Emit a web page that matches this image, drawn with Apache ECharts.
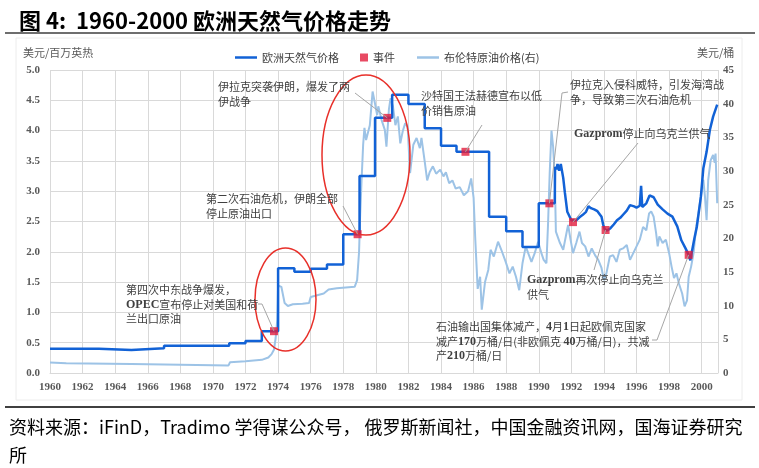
<!DOCTYPE html>
<html><head><meta charset="utf-8">
<script src="https://cdn.jsdelivr.net/npm/echarts@6/dist/echarts.min.js"></script>
<style>html,body{margin:0;padding:0;background:#fff}#c{width:759px;height:468px}</style>
</head><body><div id="c"></div>
<script>
// ---------- DATA ----------
const xTicks = [1960,1962,1964,1966,1968,1970,1972,1974,1976,1978,1980,1982,1984,1986,1988,1990,1992,1994,1996,1998,2000];
const leftTicks = [0,0.5,1,1.5,2,2.5,3,3.5,4,4.5,5];
const rightTicks = [0,5,10,15,20,25,30,35,40,45];

// 欧洲天然气价格 (美元/百万英热) [year, value]
const gasPrice = [
 [1960,0.40],[1963,0.40],[1963,0.38],[1965,0.38],[1965,0.41],[1967,0.41],[1967,0.45],
 [1971,0.45],[1971,0.49],[1972,0.49],[1972,0.53],[1973,0.53],[1973,0.69],[1974,0.69],
 [1974,1.73],[1975,1.73],[1975,1.67],[1976,1.67],[1976,1.72],[1977,1.72],[1977,1.79],
 [1978,1.79],[1978,2.29],[1979,2.29],[1979,3.25],[1979.95,3.25],[1979.95,4.21],[1981,4.21],
 [1981,4.59],[1982,4.59],[1982,4.44],[1983,4.44],[1983,4.04],[1984,4.04],[1984,3.75],
 [1984.95,3.75],[1984.95,3.65],[1986.95,3.65],[1986.95,2.58],[1988,2.58],[1988,2.34],
 [1989,2.34],[1989,2.08],[1990,2.08],[1990,2.80],[1990.98,2.80],
 [1991.0,3.40],[1991.1,3.36],[1991.15,3.45],[1991.25,3.34],[1991.35,3.45],[1991.5,3.22],
 [1991.6,2.98],[1991.65,2.97],[1991.75,2.66],[1991.85,2.63],[1992.0,2.52],[1992.1,2.49],
 [1992.3,2.52],[1992.5,2.57],[1992.7,2.61],[1992.9,2.66],[1993.05,2.75],[1993.2,2.72],
 [1993.4,2.70],[1993.6,2.67],[1993.85,2.58],[1993.95,2.45],[1994.05,2.37],[1994.2,2.35],
 [1994.4,2.39],[1994.6,2.45],[1994.8,2.52],[1995.0,2.56],[1995.2,2.62],[1995.4,2.68],
 [1995.6,2.77],[1995.7,2.78],[1995.85,2.75],[1996.0,2.73],[1996.2,2.76],[1996.28,3.09],
 [1996.35,2.74],[1996.6,2.80],[1996.8,2.93],[1996.9,2.95],[1997.05,2.90],[1997.3,2.78],
 [1997.6,2.70],[1997.9,2.63],[1998.2,2.58],[1998.5,2.42],[1998.75,2.19],[1999.0,2.06],
 [1999.2,1.95],[1999.3,1.86],[1999.55,2.22],[1999.7,2.41],[1999.95,2.91],[2000.1,3.38],
 [2000.3,3.65],[2000.4,3.62],[2000.5,4.01],[2000.7,4.23],[2000.95,4.43]
];

// 布伦特原油价格 (美元/桶) [year, value]
const brentPrice = [
 [1960,1.55],[1961,1.45],[1965,1.35],[1970,1.15],[1970.95,1.10],[1971.05,1.60],[1972,1.75],
 [1973,1.95],[1973.4,2.3],[1973.6,2.8],[1973.75,3.5],[1973.85,5.2],[1973.95,7.9],[1974.0,13.0],
 [1974.2,12.8],[1974.4,10.4],[1974.6,9.95],[1974.9,10.2],[1975.5,10.3],[1975.9,10.4],[1976.0,11.3],
 [1976.8,11.8],[1977.1,12.4],[1977.6,12.6],[1978.7,12.8],[1978.85,13.8],[1978.97,18.0],
 [1979.03,23.0],[1979.12,28.4],[1979.22,33.9],[1979.3,36.4],[1979.4,34.6],[1979.63,36.8],
 [1979.8,41.8],[1979.94,40.1],[1980.08,38.3],[1980.15,39.6],[1980.35,37.6],[1980.55,36.1],
 [1980.65,33.6],[1980.8,39.1],[1980.9,40.8],[1981.05,39.6],[1981.2,36.8],[1981.35,38.1],
 [1981.5,34.1],[1981.65,35.9],[1981.8,37.1],[1981.95,36.6],[1982.1,29.7],[1982.3,33.9],
 [1982.5,34.9],[1982.7,33.4],[1982.8,34.9],[1983.0,31.4],[1983.15,28.6],[1983.3,29.8],
 [1983.5,30.7],[1983.7,29.6],[1983.95,30.2],[1984.15,29.2],[1984.3,29.8],[1984.5,28.2],
 [1984.7,28.6],[1984.9,27.4],[1985.15,27.6],[1985.4,26.4],[1985.66,27.0],[1985.85,28.9],
 [1986.0,26.0],[1986.1,20.0],[1986.25,12.5],[1986.4,14.3],[1986.5,9.4],[1986.7,13.5],
 [1986.9,15.3],[1987.04,18.3],[1987.24,17.3],[1987.5,19.5],[1987.7,18.3],[1987.97,16.5],
 [1988.2,14.8],[1988.4,15.8],[1988.6,14.3],[1988.8,12.3],[1989.0,16.3],[1989.2,18.8],
 [1989.35,17.8],[1989.55,16.5],[1989.75,17.8],[1989.96,19.5],[1990.16,17.8],[1990.3,16.8],
 [1990.47,16.3],[1990.57,22.2],[1990.67,29.7],[1990.78,36.0],[1990.88,33.6],[1990.98,29.2],
 [1991.05,21.0],[1991.3,19.3],[1991.5,18.3],[1991.7,20.8],[1991.8,22.0],[1991.95,19.8],
 [1992.1,17.8],[1992.3,19.3],[1992.5,21.0],[1992.65,19.3],[1992.85,18.8],[1993.05,17.3],
 [1993.25,18.5],[1993.45,17.5],[1993.65,16.8],[1993.85,15.6],[1994.0,13.8],[1994.15,14.8],
 [1994.36,17.3],[1994.56,17.5],[1994.77,16.5],[1994.97,18.3],[1995.17,18.5],[1995.4,19.0],
 [1995.6,16.8],[1995.8,17.8],[1996.0,18.8],[1996.2,19.8],[1996.4,21.7],[1996.6,21.2],
 [1996.77,23.7],[1996.9,24.0],[1997.05,23.2],[1997.2,20.8],[1997.3,18.8],[1997.4,20.3],
 [1997.6,19.3],[1997.8,19.8],[1998.0,17.8],[1998.15,15.8],[1998.3,14.1],[1998.45,14.8],
 [1998.6,13.3],[1998.8,11.8],[1998.95,9.9],[1999.1,10.8],[1999.2,14.3],[1999.35,15.8],
 [1999.5,17.8],[1999.66,21.7],[1999.8,23.7],[1999.95,26.2],[2000.1,28.7],[2000.2,26.2],
 [2000.3,22.7],[2000.4,28.7],[2000.55,31.6],[2000.7,32.4],[2000.8,31.2],[2000.85,32.6],
 [2000.95,25.2]
];

// 事件 [year, gas price]
const eventPoints = [
 [1973.75,0.69],[1978.88,2.29],[1980.7,4.21],[1985.5,3.65],
 [1990.65,2.80],[1992.1,2.49],[1994.1,2.36],[1999.2,1.95]
];

const seriesNames = ['欧洲天然气价格','事件','布伦特原油价格(右)'];

// annotation texts (event index they point to)
const annotations = [
 {text:'伊拉克突袭伊朗，爆发了两\n伊战争', ev:2},
 {text:'第二次石油危机，伊朗全部\n停止原油出口', ev:1},
 {text:'第四次中东战争爆发，\n{s|OPEC}宣布停止对美国和荷\n兰出口原油', ev:0},
 {text:'沙特国王法赫德宣布以低\n价销售原油', ev:3},
 {text:'伊拉克入侵科威特，引发海湾战\n争，导致第三次石油危机', ev:4},
 {text:'{s|Gazprom}停止向乌克兰供气', ev:5},
 {text:'{s|Gazprom}再次停止向乌克兰\n供气', ev:6},
 {text:'石油输出国集体减产，{s|4}月{s|1}日起欧佩克国家\n减产{s|170}万桶/日(非欧佩克 {s|40}万桶/日)，共减\n产{s|210}万桶/日', ev:7}
];
// ---------- LAYOUT (pixels) ----------
const annLayout = [
 {x:218,y:80, from:[[355,93]]},
 {x:206,y:192, from:[[343,206]]},
 {x:126,y:283, from:[[258,304],[262,304]]},
 {x:421,y:89, from:[[482,125]]},
 {x:570,y:78, from:[[568,92],[562,93]]},
 {x:574,y:127, from:[[638,143]]},
 {x:527,y:273, from:[[594,270]]},
 {x:436,y:320, from:[[652,340],[657,340]]}
];

const CJK = "'Noto Sans CJK SC', sans-serif";
const SERIF = "'Liberation Serif', 'DejaVu Serif', serif";
const gridC = '#d9d9d9';

const chart = echarts.init(document.getElementById('c'), null, {renderer:'canvas'});
const option = {
  animation:false,
  backgroundColor:'#fff',
  title:{text:'图 4:  1960-2000 欧洲天然气价格走势', left:14, top:5,
    textStyle:{fontFamily:CJK, fontSize:22, fontWeight:'bold', color:'#000'}},
  legend:[
    {data:[seriesNames[0]], left:230, top:47, icon:'rect', itemWidth:22, itemHeight:2.5,
     textStyle:{fontFamily:CJK, fontSize:11, color:'#404040'}},
    {data:[seriesNames[1]], left:355, top:47, icon:'rect', itemWidth:8, itemHeight:8,
     textStyle:{fontFamily:CJK, fontSize:11, color:'#404040'}},
    {data:[seriesNames[2]], left:412, top:47, icon:'rect', itemWidth:22, itemHeight:2.5,
     textStyle:{fontFamily:CJK, fontSize:11, color:'#404040'}}
  ],
  grid:{left:50, right:41, top:70, bottom:95, containLabel:false},
  xAxis:{type:'value', min:xTicks[0], max:2001, interval:2,
    axisLine:{show:true, lineStyle:{color:gridC}}, axisTick:{show:false},
    splitLine:{show:true, lineStyle:{color:gridC, width:1}},
    axisLabel:{showMaxLabel:false, margin:9, color:'#595959', fontFamily:SERIF, fontSize:11, fontWeight:'bold',
      formatter:v=> xTicks.includes(v) ? String(v) : ''}},
  yAxis:[
    {type:'value', min:leftTicks[0], max:leftTicks[leftTicks.length-1], interval:0.5, position:'left',
     axisLine:{show:false}, axisTick:{show:false},
     splitLine:{show:true, lineStyle:{color:gridC, width:1}},
     axisLabel:{margin:10, color:'#595959', fontFamily:SERIF, fontSize:11, fontWeight:'bold', formatter:v=>v.toFixed(1)}},
    {type:'value', min:rightTicks[0], max:rightTicks[rightTicks.length-1], interval:5, position:'right',
     axisLine:{show:false}, axisTick:{show:false}, splitLine:{show:false},
     axisLabel:{margin:5, color:'#595959', fontFamily:SERIF, fontSize:11, fontWeight:'bold'}}
  ],
  series:[
    {name:seriesNames[0], type:'line', yAxisIndex:0, data:gasPrice, showSymbol:false, symbol:'none',
     lineStyle:{color:'#1262d6', width:2.5}, itemStyle:{color:'#1262d6'}, z:3},
    {name:seriesNames[1], type:'scatter', yAxisIndex:0, data:eventPoints, symbol:'rect', symbolSize:8,
     itemStyle:{color:'#e21d3c'}, z:5},
    {name:seriesNames[2], type:'line', yAxisIndex:1, data:brentPrice, showSymbol:false, symbol:'none',
     lineStyle:{color:'#9dc3e6', width:2}, itemStyle:{color:'#9dc3e6'}, z:2}
  ]
};
chart.setOption(option);

const graphics = [];
graphics.push({type:'rect', silent:true, shape:{x:16,y:38,width:726,height:362}, style:{fill:'none', stroke:'#ececec', lineWidth:1}, z:-1});
graphics.push({type:'line', silent:true, shape:{x1:5,y1:33,x2:755,y2:33}, style:{stroke:'#6e6e6e', lineWidth:2}});
graphics.push({type:'line', silent:true, shape:{x1:5,y1:407,x2:755,y2:407}, style:{stroke:'#000', lineWidth:1.5}});
graphics.push({type:'text', silent:true, style:{text:'美元/百万英热', x:23, y:53, verticalAlign:'middle', fill:'#595959', font:'11px '+CJK}});
graphics.push({type:'text', silent:true, style:{text:'美元/桶', x:697, y:53, verticalAlign:'middle', fill:'#595959', font:'11px '+CJK}});
graphics.push({type:'text', silent:true, style:{text:'资料来源：iFinD，Tradimo 学得谋公众号， 俄罗斯新闻社，中国金融资讯网，国海证券研究\n所',
  x:9, y:413, fill:'#000', font:'18px '+CJK, lineHeight:28}});
// ellipses
graphics.push({type:'ellipse', silent:true, shape:{cx:285.5, cy:299.5, rx:30.5, ry:51.5}, style:{fill:'none', stroke:'#e8302a', lineWidth:1.5}, z:10});
graphics.push({type:'ellipse', silent:true, shape:{cx:366, cy:155, rx:44, ry:80}, style:{fill:'none', stroke:'#e8302a', lineWidth:1.5}, z:10});
// annotations
const richS = {s:{fontFamily:SERIF, fontWeight:'bold', fontSize:12, fill:'#404040', lineHeight:14.5}};
annotations.forEach((a,i)=>{
  const L = annLayout[i];
  graphics.push({type:'text', silent:true, z:12, style:{text:a.text, x:L.x, y:L.y, fill:'#404040',
    font:'11px '+CJK, lineHeight:14.5, rich:richS}});
  const ev = chart.convertToPixel({xAxisIndex:0, yAxisIndex:0}, eventPoints[a.ev]);
  const pts = L.from.concat([ev]);
  graphics.push({type:'polyline', silent:true, z:11, shape:{points:pts}, style:{stroke:'#a6a6a6', lineWidth:1, fill:'none'}});
});
chart.setOption({graphic:graphics});
</script></body></html>
